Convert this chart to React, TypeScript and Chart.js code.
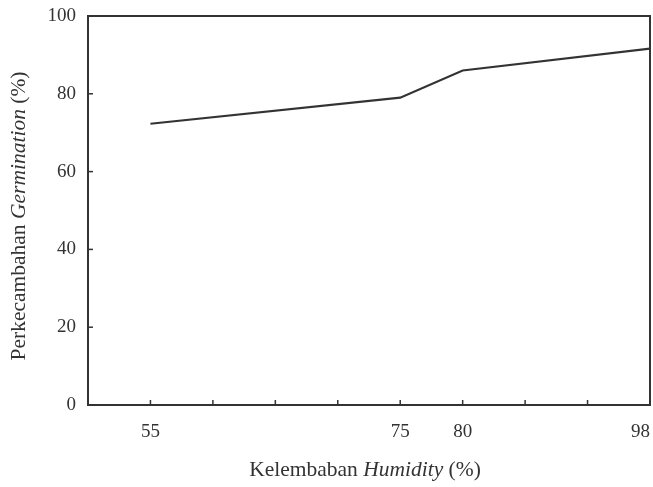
import React, { useEffect, useRef } from "react";
import { Chart, registerables } from "chart.js";

Chart.register(...registerables);

// x positions are evenly spaced slots; labels map slot index -> humidity
const xTickLabels = ["", "55", "", "", "", "75", "80", "", "", "98"];
const humiditySlots = [1, 5, 6, 9];
const germination = [72.3, 79.0, 86.0, 91.6];
const yTicks = [0, 20, 40, 60, 80, 100];

const INK = "#333333";
const FONT = "Liberation Serif";

const framePlugin = {
  id: "frame",
  afterDraw(chart: any) {
    const { ctx, chartArea } = chart;
    const xs = chart.scales.x;
    const ys = chart.scales.y;
    ctx.save();
    ctx.strokeStyle = INK;
    ctx.lineWidth = 2;
    ctx.strokeRect(chartArea.left, chartArea.top, chartArea.right - chartArea.left, chartArea.bottom - chartArea.top);
    ctx.lineWidth = 1.5;
    // inner ticks
    for (let i = 1; i < xTickLabels.length - 1; i++) {
      const px = xs.getPixelForValue(i);
      ctx.beginPath();
      ctx.moveTo(px, chartArea.bottom);
      ctx.lineTo(px, chartArea.bottom - 5);
      ctx.stroke();
    }
    for (const v of yTicks) {
      const py = ys.getPixelForValue(v);
      ctx.beginPath();
      ctx.moveTo(chartArea.left, py);
      ctx.lineTo(chartArea.left + 5, py);
      ctx.stroke();
    }
    // axis titles with mixed italic
    ctx.fillStyle = INK;
    ctx.textBaseline = "middle";
    const drawMixed = (parts: [string, boolean][], cx: number, cy: number, rot: number, size: number) => {
      ctx.save();
      ctx.translate(cx, cy);
      ctx.rotate(rot);
      let total = 0;
      const widths: number[] = [];
      for (const [t, it] of parts) {
        ctx.font = `${it ? "italic " : ""}${size}px "${FONT}"`;
        const w = ctx.measureText(t).width;
        widths.push(w);
        total += w;
      }
      let x = -total / 2;
      ctx.textAlign = "left";
      parts.forEach(([t, it], i) => {
        ctx.font = `${it ? "italic " : ""}${size}px "${FONT}"`;
        ctx.fillText(t, x, 0);
        x += widths[i];
      });
      ctx.restore();
    };
    drawMixed([["Kelembaban ", false], ["Humidity", true], [" (%)", false]], 365, 470, 0, 21.5);
    drawMixed([["Perkecambahan ", false], ["Germination", true], [" (%)", false]], 19, 216, -Math.PI / 2, 21.5);
    ctx.restore();
  },
};

export default function App() {
  const ref = useRef<HTMLCanvasElement>(null);
  useEffect(() => {
    document.body.style.margin = "0";
    const chart = new Chart(ref.current!, {
      type: "line",
      data: {
        datasets: [
          {
            data: humiditySlots.map((x, i) => ({ x, y: germination[i] })),
            borderColor: INK,
            borderWidth: 2.2,
            pointRadius: 0,
            tension: 0,
            fill: false,
          },
        ],
      },
      options: {
        animation: false,
        responsive: false,
        layout: { padding: { top: 16, right: 3, left: 0, bottom: 0 } },
        plugins: { legend: { display: false }, tooltip: { enabled: false } },
        scales: {
          x: {
            type: "linear",
            min: 0,
            max: 9,
            grid: { display: false, drawTicks: false },
            border: { display: false },
            ticks: {
              stepSize: 1,
              autoSkip: false,
              maxRotation: 0,
              padding: 16,
              color: INK,
              font: { family: FONT, size: 19 },
              callback: (v: any) => {
                const s = xTickLabels[v as number] ?? "";
                return v === xTickLabels.length - 1 ? s + "    " : s;
              },
            },
            afterFit: (s: any) => {
              s.height = 82;
              s.paddingLeft = 0;
              s.paddingRight = 0;
            },
          },
          y: {
            min: 0,
            max: 100,
            grid: { display: false, drawTicks: false },
            border: { display: false },
            ticks: {
              stepSize: 20,
              padding: 12,
              color: INK,
              font: { family: FONT, size: 19 },
            },
            afterFit: (s: any) => {
              s.width = 88;
              s.paddingTop = 0;
              s.paddingBottom = 0;
            },
          },
        },
      },
      plugins: [framePlugin],
    });
    return () => chart.destroy();
  }, []);
  return (
    <div style={{ width: 653, height: 487 }}>
      <canvas ref={ref} width={653} height={487} style={{ width: 653, height: 487, display: "block" }} />
    </div>
  );
}
